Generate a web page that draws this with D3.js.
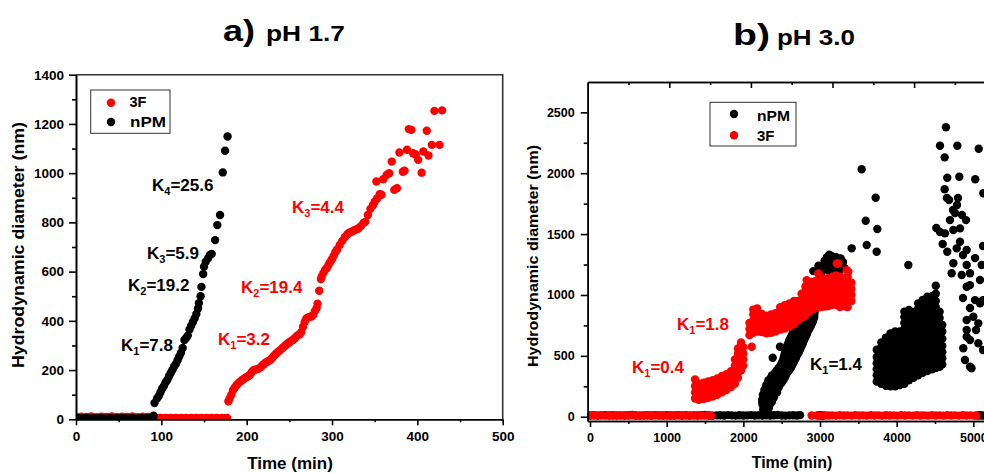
<!DOCTYPE html>
<html>
<head>
<meta charset="utf-8">
<script src="https://cdn.jsdelivr.net/npm/d3@7"></script>
<style>
  body { margin: 0; background: #fff; }
  svg { display: block; font-family: "Liberation Sans", Arial, sans-serif; font-weight: bold; }
</style>
</head>
<body>
<div id="chart"></div>
<script>
// ===== painel a) pH 1.7  -> [tempo (min), diametro (nm)] =====
const a3FLinhaBase = [[0,9],[3,6],[6,11],[9,5],[12,10],[15,7],[18,12],[21,5],[24,9],[27,6],[30,11],[33,7],[36,10],[39,5],[42,12],[45,6],
  [48,9],[51,7],[54,11],[57,5],[60,10],[63,6],[66,12],[69,7],[72,9],[75,5],[78,11],[81,6],[84,10],[87,7],[90,9],[93,5],[96,4],[99,5],
  [102,4],[105,5],[108,4],[111,5],[114,4],[117,5],[120,4],[123,5],[126,4],[129,5],[132,4],[135,5],[138,4],[141,5],[144,4],[147,5],
  [150,4],[153,5],[156,4],[159,5],[162,4],[165,5],[168,4],[171,5],[174,4],[177,5]];
const a3FSubida = [[178.6,73],[180,85],[182,100],[184,118],[186,128],[188,138],[190,146],[192,152],[194,158],[196,163],[198,168],
  [200,172],[202,176],[204,181],[206,192],[208,199],[210,202],[212,204],[214,206],[216,210],[218,218],[220,224],[222,230],[224,234],
  [226,238],[228,242],[230,250],[232,258],[234,265],[236,272],[238,278],[240,283],[242,290],[244,296],[246,302],[248,308],[250,313],
  [252,318],[254,322],[256,328],[258,335],[260,342],[262,345],[264,355],[266,376],[268,395],[270,410],[272,414],[274,416],[276,418],
  [278,425],[280,440],[282,452],[283,470],[285,522],[287,570],[288,580],[290,595],[292,608],[294,615],[296,628],[298,640],[300,650],
  [302,665],[304,680],[306,690],[309,708],[312,725],[315,740],[318,752],[320,758],[323,762],[326,768],[329,772],[331,776],[334,785],
  [337,798],[339,802],[342,830],[345,855],[348,870],[350,884],[353,898],[356,915],[358,912],[352,966],[360,975],[364,993],[367,1000],
  [370,1047],[373,932],[376,939],[379,1084],[383,1006],[385,1010],[388,1095],[390,1179],[393,1176],[395,1081],[398,1076],[401,1054],
  [405,1002],[407,1088],[411,1172],[413,1072],[417,1115],[420,1253],[426,1115],[429,1255]];
const aNpmLinhaBase = [[0,3],[3,4],[6,2],[9,3],[12,4],[15,3],[18,2],[21,4],[24,3],[27,3],[30,4],[33,2],[36,3],[39,4],[42,3],[45,2],
  [48,4],[51,3],[54,3],[57,4],[60,2],[63,3],[66,4],[69,3],[72,2],[75,4],[78,3],[81,3],[84,4],[87,2],[90,3],[91,15]];
const aNpmSubida = [[92,66],[95,85],[97,95],[99,110],[101,125],[103,135],[105,150],[107,160],[109,175],[111,188],[113,200],[115,215],
  [117,225],[119,240],[121,255],[123,270],[125,290],[127,322],[129,330],[131,340],[133,365],[135,380],[137,395],[139,410],[141,428],
  [143,450],[144,472],[146,500],[147,538],[149,590],[150,620],[152,640],[155,655],[157,668],[159,672],[163,728],[165.6,789],
  [168.8,830],[172,1003],[174.7,1091],[177.6,1149]];

// ===== painel b) pH 3.0 =====
const bNpmLinhaBase = [[0,10],[50,12],[100,9],[150,11],[200,13],[250,10],[300,12],[350,9],[400,11],[450,10],[500,12],[550,14],
  [600,10],[650,9],[700,11],[750,12],[800,10],[850,13],[900,11],[950,9],[1000,12],[1050,10],[1100,11],[1150,13],[1200,10],[1250,12],
  [1300,9],[1350,11],[1400,10],[1450,12],[1500,14],[1550,10],[1600,9],[1650,11],[1700,12],[1750,10],[1800,13],[1850,11],[1900,9],
  [1950,12],[2000,10],[2050,11],[2100,13],[2150,10],[2200,12],[2250,9],[2300,11],[2350,10],[2400,12],[2450,14],[2500,10],[2550,9],
  [2600,11],[2650,12],[2700,10],[2740,13],[2975,10],[3010,12],[3035,8],[5060,10],[5090,12],[5120,9],[5150,11]];
const bNpmSubida = [[2260,60],[2292,60],[2325,60],[2250,100],[2298,100],[2345,100],[2245,140],[2310,140],[2375,140],
  [2255,180],[2330,180],[2405,180],[2275,220],[2355,220],[2435,220],[2300,260],[2388,260],[2475,260],[2328,300],[2424,300],[2520,300],
  [2375,340],[2465,340],[2555,340],[2435,380],[2515,380],[2595,380],[2485,420],[2560,420],[2635,420],[2515,460],[2590,460],[2665,460],
  [2535,500],[2615,500],[2695,500],[2550,540],[2640,540],[2730,540],[2570,580],[2665,580],[2760,580],[2595,620],[2690,620],[2785,620],
  [2625,660],[2720,660],[2815,660],[2650,700],[2745,700],[2840,700],[2705,740],[2790,740],[2875,740],[2765,780],[2835,780],[2905,780],
  [2825,820],[2875,820],[2925,820],[2855,860],[2892,860],[2930,860],[2880,900],[2910,900],[2383,484],[2478,575],
  [2275,80],[2335,80],[2250,120],[2320,120],[2370,120],[2260,160],[2340,160],[2400,160],[2280,200],[2360,200],[2440,200],
  [2300,240],[2380,240],[2460,240],[2320,280],[2410,280],[2500,280],[2360,320],[2450,320],[2540,320],[2410,360],[2490,360],[2570,360],
  [2460,400],[2540,400],[2620,400],[2500,440],[2580,440],[2650,440],[2525,480],[2605,480],[2685,480],[2540,520],[2630,520],[2715,520],
  [2560,560],[2655,560],[2745,560],[2585,600],[2680,600],[2775,600],[2610,640],[2705,640],[2800,640],[2640,680],[2735,680],[2830,680],
  [2680,720],[2770,720],[2860,720],[2735,760],[2815,760],[2890,760],[2795,800],[2855,800],[2915,800],[2840,840],[2885,840],[2925,840]];
// nuvem grande 3700-4600 min: [tempo, [diametros]]
const bNpmNuvem = [
  [3740,[290,340,390,440,490,550]],
  [3800,[270,320,370,420,470,520,570,610]],
  [3860,[255,305,355,405,455,505,555,605,650]],
  [3920,[250,300,350,400,450,500,550,600,645,685]],
  [3980,[250,300,350,400,450,500,550,600,650,700]],
  [4040,[260,310,360,410,460,510,560,610,660,700]],
  [4100,[270,320,370,420,470,520,570,620,670,720,770,820,862]],
  [4160,[300,350,400,450,500,550,600,650,700,750,800,850,876]],
  [4220,[320,370,420,470,520,570,620,670,720,770,820,860]],
  [4280,[340,390,440,490,540,590,640,690,740,790,840,890,931]],
  [4340,[360,410,460,510,560,610,660,710,760,810,860,910,960]],
  [4400,[375,425,475,525,575,625,675,725,775,825,875,925,985]],
  [4460,[390,440,490,540,590,640,690,740,790,840,890,940,990]],
  [4510,[400,450,500,550,600,650,700,750,800,850,900,950,1010,1076]],
  [4560,[410,460,510,560,610,660,710,760,810,862]],
  [4595,[430,480,530,580,640,700,753]]];
const bNpmTopo = [[3020,1180],[3040,1230],[3060,1280],[3090,1310],[3120,1330],[3150,1320],[3180,1300],[3210,1310],[3240,1290],
  [3270,1300],[3300,1270],[3090,1250],[3150,1260],[3210,1240],[3270,1230],[3110,1200],[3180,1200],[3250,1190],[3320,1220],
  [2913,1196],[2980,1240]];
const bNpmDisperso = [[3413,1383],[3609,1410],[3543,2032],[3726,1799],[3596,1610],[3748,1542],[3739,1355],[4152,1246],
  [4643,2377],[4565,2226],[4791,2226],[5070,2201],[4626,2130],[4660,1963],[4817,1971],[5025,1950],[4626,1868],[4656,1796],
  [4800,1796],[4787,1739],[4735,1698],[4683,1780],[4761,1672],[4695,1615],[4852,1657],[4517,1550],[4630,1506],[4739,1533],
  [4826,1547],[4904,1615],[4565,1517],[4600,1418],[4660,1355],[4783,1383],[4913,1369],[4826,1437],[5126,1402],[5130,1835],
  [4739,1260],[4913,1246],[4956,1178],[5109,1246],[4717,1178],[4848,1164],[4865,1328],[5022,1303],[4913,1068],[4956,1081],
  [5022,958],[5087,931],[4956,893],[4865,975],[5000,821],[5065,767],[4913,712],[5035,712],[4956,630],[5065,603],[4869,562],
  [4976,398],[4891,466],[5126,548],[5126,958],[4913,794],[4913,657],[5087,1123],[4956,411]];
const b3FLinhaBase = [[0,9],[50,11],[100,10],[150,12],[200,9],[250,11],[300,10],[350,12],[400,9],[450,11],[500,10],[550,12],
  [600,9],[650,11],[700,10],[750,12],[800,9],[850,11],[900,10],[950,12],[1000,9],[1050,11],[1100,10],[1150,12],[1200,9],[1250,11],
  [1300,10],[1350,12],[1400,9],[1450,11],[1500,10],[1550,12],[1580,9],[2891,10],[2960,11],[3010,9],[3060,12],[3110,10],[3160,11],
  [3210,9],[3260,12],[3310,10],[3360,11],[3410,9],[3460,12],[3510,10],[3560,11],[3610,9],[3660,12],[3710,10],[3760,11],[3810,9],
  [3860,12],[3910,10],[3960,11],[4010,9],[4060,12],[4110,10],[4160,11],[4210,9],[4260,12],[4310,10],[4360,11],[4410,9],[4460,12],
  [4510,10],[4560,11],[4610,9],[4660,12],[4710,10],[4760,11],[4810,9],[4860,12],[4910,10],[4960,11],[5010,9],[5040,10]];
// faixa vermelha: [tempo, [diametros]]
const b3FFaixa = [
  [1370,[150,200,250]],[1420,[140,190,240,270]],[1480,[145,195,245,280]],[1540,[155,205,255,290]],[1600,[165,215,265,300]],
  [1660,[180,230,280,315]],[1720,[200,250,300,335]],[1780,[220,270,320,350]],[1840,[245,295,345,375]],[1890,[270,320,370,420,470]],
  [1930,[320,370,420,470,520,560]],[1970,[380,430,480,530,580,610]],[2000,[420,470,520,570]],
  [2080,[670,720,770]],[2130,[690,740,790,840,880]],[2180,[700,750,800,850,890]],[2240,[695,745,795,845]],[2300,[685,735,785,830]],
  [2360,[690,740,790,840]],[2420,[700,750,800,850]],[2480,[715,765,815,865,900]],[2540,[725,775,825,875,915]],
  [2600,[740,790,840,890,930]],[2660,[760,810,860,910,950]],[2710,[790,840,890,950]],[2760,[810,860,910,960,1010]],
  [2810,[830,880,930,980,1030,1070]],[2860,[860,910,960,1010,1060,1100]],[2910,[880,930,980,1030,1080,1110]],
  [2960,[900,950,1000,1050,1100,1120]],[3010,[900,950,1000,1050,1100,1150]],[3060,[905,955,1005,1055,1105,1130]],
  [3110,[910,960,1010,1060,1110,1140]],[3160,[920,970,1020,1070,1120,1150]],[3210,[920,970,1020,1070,1120,1160]],
  [3260,[900,950,1000,1050,1100,1150]],[3310,[910,960,1010,1060,1110,1140]],[3360,[900,950,1000,1050,1100,1150]],
  [3410,[950,1000,1050,1100]]];
const b3FSoltos = [[1370,307],[2109,575],[2978,1177],[3218,1259],[3348,1204],[3239,1259],[3369,1190],[2826,1122],[3348,903]];

const width = 984;
const height = 473;
const fonte = '"Liberation Sans", Arial, sans-serif';

const svg = d3.select("#chart").append("svg")
    .attr("width", width)
    .attr("height", height);
const defs = svg.append("defs");

// colunas [t,[v...]] -> pontos [t,v]
const achatar = cols => cols.flatMap(([t, vs]) => vs.map(v => [t, v]));

function pontos(g, dados, x, y, cor) {
    g.selectAll(null)
        .data(dados)
        .enter()
        .append("circle")
        .attr("cx", d => x(d[0]))
        .attr("cy", d => y(d[1]))
        .attr("r", 4.2)
        .attr("fill", cor);
}

function estilo(g, tam) {
    g.attr("font-family", fonte).attr("font-weight", "bold").attr("font-size", tam).attr("color", "#000");
    g.selectAll("path, line").attr("stroke-width", 1.6);
}

function rotuloK(x, y, sub, resto, cor) {
    const t = svg.append("text")
        .attr("x", x).attr("y", y)
        .attr("fill", cor)
        .attr("font-size", 17);
    t.append("tspan").text("K");
    t.append("tspan").attr("font-size", 11).attr("dy", 4).text(sub);
    t.append("tspan").attr("dy", -4).text(resto);
}

const inteiro = d3.format("d");

// ---------- painel a ----------
const xa = d3.scaleLinear().domain([0, 500]).range([76, 502.7]);
const ya = d3.scaleLinear().domain([0, 1400]).range([419.3, 74.7]);

defs.append("clipPath").attr("id", "clipA").append("rect")
    .attr("x", 76).attr("y", 74.7).attr("width", 426.7).attr("height", 344.6);

// moldura superior/direita
svg.append("path")
    .attr("d", `M76,74.7H502.7V419.3`)
    .attr("fill", "none")
    .attr("stroke", "#333")
    .attr("stroke-width", 1.6);

const gA = svg.append("g").attr("clip-path", "url(#clipA)");
pontos(gA, a3FLinhaBase, xa, ya, "#ff0000");
pontos(gA, a3FSubida, xa, ya, "#ff0000");
pontos(gA, aNpmLinhaBase, xa, ya, "#000");
pontos(gA, aNpmSubida, xa, ya, "#000");

svg.append("g").attr("transform", "translate(0,419.3)")
    .call(d3.axisBottom(xa).tickValues([50, 150, 250, 350, 450]).tickSize(3).tickSizeOuter(0).tickFormat(""))
    .call(g => estilo(g, 13.5));
svg.append("g").attr("transform", "translate(0,419.3)")
    .call(d3.axisBottom(xa).tickValues(d3.range(0, 501, 100)).tickSize(6).tickSizeOuter(0).tickPadding(6).tickFormat(inteiro))
    .call(g => estilo(g, 13.5));
svg.append("g").attr("transform", "translate(76,0)")
    .call(d3.axisLeft(ya).tickValues(d3.range(100, 1400, 200)).tickSize(4).tickSizeOuter(0).tickFormat(""))
    .call(g => estilo(g, 13.5));
svg.append("g").attr("transform", "translate(76,0)")
    .call(d3.axisLeft(ya).tickValues(d3.range(0, 1401, 200)).tickSize(7).tickSizeOuter(0).tickPadding(5).tickFormat(inteiro))
    .call(g => estilo(g, 13.5));

// titulos dos eixos
svg.append("text")
    .attr("x", 290).attr("y", 469)
    .attr("text-anchor", "middle")
    .attr("font-size", 17)
    .text("Time (min)");
svg.append("text")
    .attr("transform", "translate(24,245) rotate(-90)")
    .attr("text-anchor", "middle")
    .attr("font-size", 16.5)
    .attr("textLength", 246)
    .attr("lengthAdjust", "spacingAndGlyphs")
    .text("Hydrodynamic diameter (nm)");

svg.append("text").attr("x", 223).attr("y", 41).attr("font-size", 30)
    .attr("textLength", 32).attr("lengthAdjust", "spacingAndGlyphs").text("a)");
svg.append("text").attr("x", 266).attr("y", 41).attr("font-size", 22.5)
    .attr("textLength", 79).attr("lengthAdjust", "spacingAndGlyphs").text("pH 1.7");

// legenda a
svg.append("rect").attr("x", 90.7).attr("y", 90).attr("width", 79.3).attr("height", 43.3)
    .attr("fill", "#fff").attr("stroke", "#333").attr("stroke-width", 1);
svg.append("circle").attr("cx", 111).attr("cy", 102.7).attr("r", 4.2).attr("fill", "#ff0000");
svg.append("circle").attr("cx", 111).attr("cy", 122).attr("r", 4.2).attr("fill", "#000");
svg.append("text").attr("x", 129.5).attr("y", 106.7).attr("font-size", 14.5).text("3F");
svg.append("text").attr("x", 130).attr("y", 126.7).attr("font-size", 14.5)
    .attr("textLength", 36).attr("lengthAdjust", "spacingAndGlyphs").text("nPM");

rotuloK(152, 191, "4", "=25.6", "#000");
rotuloK(147, 259, "3", "=5.9", "#000");
rotuloK(128, 291, "2", "=19.2", "#000");
rotuloK(121, 351, "1", "=7.8", "#000");
rotuloK(292, 212.5, "3", "=4.4", "#ff0000");
rotuloK(241, 293, "2", "=19.4", "#ff0000");
rotuloK(218, 345, "1", "=3.2", "#ff0000");

// ---------- painel b ----------
const xb = d3.scaleLinear().domain([-30, 5139]).range([587.7, 984]);
const yb = d3.scaleLinear().domain([-35, 2749]).range([421, 82]);
const xbTopo = d3.scaleLinear().domain([0, 5000]).range([587.7, 995.7]);

defs.append("clipPath").attr("id", "clipB").append("rect")
    .attr("x", 587.7).attr("y", 82).attr("width", 400).attr("height", 339);

const gB = svg.append("g").attr("clip-path", "url(#clipB)");
pontos(gB, bNpmLinhaBase, xb, yb, "#000");
pontos(gB, bNpmSubida, xb, yb, "#000");
pontos(gB, achatar(bNpmNuvem), xb, yb, "#000");
pontos(gB, bNpmTopo, xb, yb, "#000");
pontos(gB, bNpmDisperso, xb, yb, "#000");
pontos(gB, b3FLinhaBase, xb, yb, "#ff0000");
pontos(gB, achatar(b3FFaixa), xb, yb, "#ff0000");
pontos(gB, b3FSoltos, xb, yb, "#ff0000");

// eixo superior com marcas para dentro
svg.append("g").attr("transform", "translate(0,82)")
    .call(d3.axisBottom(xbTopo).tickValues(d3.range(500, 5000, 1000)).tickSize(3).tickSizeOuter(0).tickFormat(""))
    .call(g => estilo(g, 12.5));
svg.append("g").attr("transform", "translate(0,82)")
    .call(d3.axisBottom(xbTopo).tickValues(d3.range(1000, 5001, 1000)).tickSize(6).tickSizeOuter(0).tickFormat(""))
    .call(g => estilo(g, 12.5));

svg.append("g").attr("transform", "translate(0,421)")
    .call(d3.axisBottom(xb).tickValues(d3.range(500, 5000, 1000)).tickSize(3).tickSizeOuter(0).tickFormat(""))
    .call(g => estilo(g, 12.5));
svg.append("g").attr("transform", "translate(0,421)")
    .call(d3.axisBottom(xb).tickValues(d3.range(0, 5001, 1000)).tickSize(6).tickSizeOuter(0).tickPadding(6).tickFormat(inteiro))
    .call(g => estilo(g, 12.5));
svg.append("g").attr("transform", "translate(587.7,0)")
    .call(d3.axisLeft(yb).tickValues(d3.range(250, 2750, 500)).tickSize(4).tickSizeOuter(0).tickFormat(""))
    .call(g => estilo(g, 12.5));
svg.append("g").attr("transform", "translate(587.7,0)")
    .call(d3.axisLeft(yb).tickValues(d3.range(0, 2501, 500)).tickSize(7).tickSizeOuter(0).tickPadding(6).tickFormat(inteiro))
    .call(g => estilo(g, 12.5));

svg.append("text")
    .attr("x", 792).attr("y", 468)
    .attr("text-anchor", "middle")
    .attr("font-size", 16)
    .text("Time (min)");
svg.append("text")
    .attr("transform", "translate(538,256) rotate(-90)")
    .attr("text-anchor", "middle")
    .attr("font-size", 15)
    .attr("textLength", 222)
    .attr("lengthAdjust", "spacingAndGlyphs")
    .text("Hydrodynamic diameter (nm)");

svg.append("text").attr("x", 733).attr("y", 45).attr("font-size", 30)
    .attr("textLength", 37).attr("lengthAdjust", "spacingAndGlyphs").text("b)");
svg.append("text").attr("x", 777).attr("y", 45).attr("font-size", 22.5)
    .attr("textLength", 78).attr("lengthAdjust", "spacingAndGlyphs").text("pH 3.0");

// legenda b
svg.append("rect").attr("x", 710).attr("y", 102.3).attr("width", 86).attr("height", 43.7)
    .attr("fill", "#fff").attr("stroke", "#333").attr("stroke-width", 1);
svg.append("circle").attr("cx", 734).attr("cy", 114).attr("r", 4.2).attr("fill", "#000");
svg.append("circle").attr("cx", 734).attr("cy", 135.3).attr("r", 4.2).attr("fill", "#ff0000");
svg.append("text").attr("x", 757).attr("y", 120.7).attr("font-size", 15)
    .attr("textLength", 33).attr("lengthAdjust", "spacingAndGlyphs").text("nPM");
svg.append("text").attr("x", 757).attr("y", 141).attr("font-size", 15).text("3F");

rotuloK(677, 330, "1", "=1.8", "#ff0000");
rotuloK(632, 372.5, "1", "=0.4", "#ff0000");
rotuloK(810, 370, "1", "=1.4", "#000");
</script>
</body>
</html>
